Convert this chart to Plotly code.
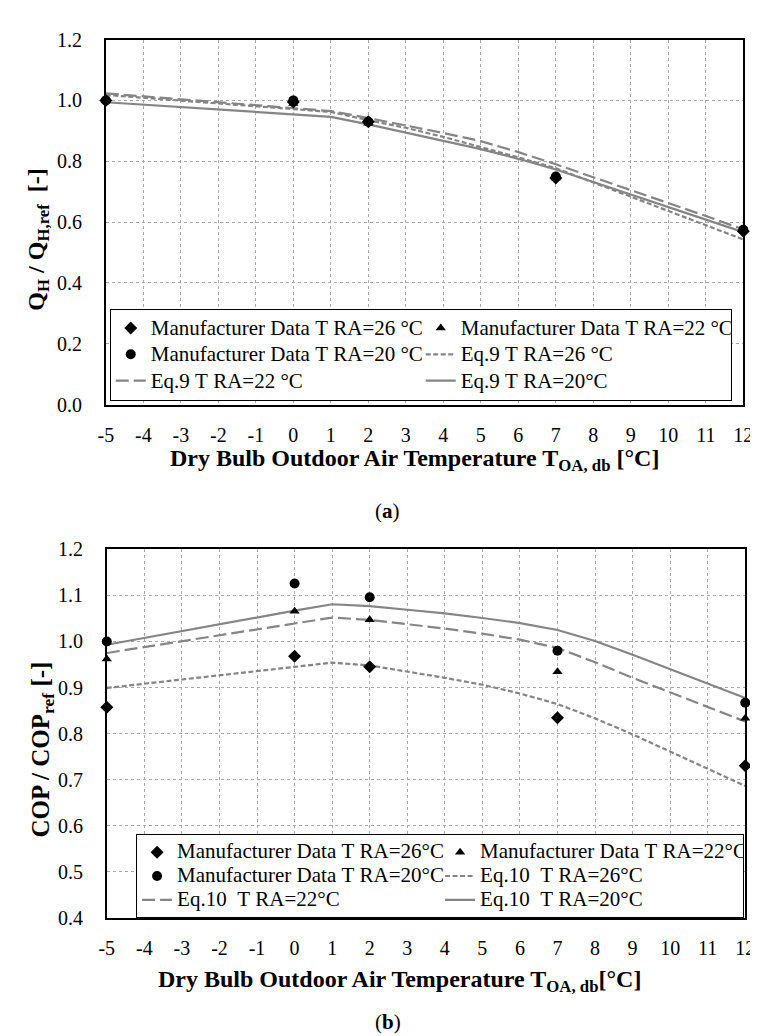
import plotly.graph_objects as go

# ---------------- data ----------------
x_pts = [-5, 0, 2, 7, 12]
x_line = list(range(-5, 13))

# (a) Q_H / Q_H,ref
qa_md26 = [1.000, 0.995, 0.930, 0.745, 0.570]
qa_md22 = [1.000, 0.990, 0.925, 0.745, 0.575]
qa_md20 = [1.000, 1.000, 0.930, 0.750, 0.575]
qa_eq26 = [1.018, 1.009, 1.000, 0.990, 0.981, 0.972, 0.962, 0.935, 0.910, 0.880,
           0.847, 0.813, 0.777, 0.730, 0.684, 0.637, 0.590, 0.543]
qa_eq22 = [1.023, 1.013, 1.004, 0.994, 0.984, 0.975, 0.965, 0.942, 0.918, 0.893,
           0.866, 0.830, 0.790, 0.748, 0.706, 0.663, 0.620, 0.576]
qa_eq20 = [0.994, 0.986, 0.978, 0.970, 0.962, 0.954, 0.946, 0.921, 0.894, 0.867,
           0.840, 0.808, 0.773, 0.732, 0.690, 0.649, 0.608, 0.567]

# (b) COP / COP_ref
cb_md26 = [0.857, 0.968, 0.945, 0.834, 0.730]
cb_md22 = [0.962, 1.066, 1.047, 0.934, 0.833]
cb_md20 = [1.000, 1.126, 1.096, 0.980, 0.867]
cb_eq26 = [0.899, 0.908, 0.917, 0.927, 0.936, 0.945, 0.954, 0.948, 0.935, 0.921,
           0.906, 0.887, 0.864, 0.833, 0.798, 0.761, 0.724, 0.686]
cb_eq22 = [0.975, 0.988, 1.001, 1.014, 1.027, 1.040, 1.052, 1.047, 1.038, 1.028,
           1.017, 1.004, 0.986, 0.955, 0.921, 0.889, 0.857, 0.826]
cb_eq20 = [0.993, 1.008, 1.022, 1.037, 1.052, 1.067, 1.081, 1.077, 1.069, 1.061,
           1.051, 1.040, 1.025, 1.001, 0.971, 0.940, 0.909, 0.877]

names_a = ["Manufacturer Data T RA=26 °C", "Manufacturer Data T RA=22 °C",
           "Manufacturer Data T RA=20 °C", "Eq.9 T RA=26 °C",
           "Eq.9 T RA=22 °C", "Eq.9 T RA=20°C"]
names_b = ["Manufacturer Data T RA=26°C", "Manufacturer Data T RA=22°C",
           "Manufacturer Data T RA=20°C", "Eq.10  T RA=26°C",
           "Eq.10  T RA=22°C", "Eq.10  T RA=20°C"]

x_ticks = list(range(-5, 13))
x_ticktext = [str(v) for v in x_ticks]

# ---------------- style ----------------
W, H = 758, 1036
FONT = "Liberation Serif"
GREY = "#858585"
GRID = "#a8a8a8"
dash_short = "5px,2.5px"
dash_long = "13px,5px"

def px_x(p):
    return p / W

def px_y(p):
    return 1 - p / H

def big(t):
    return '<span style="font-size:21px">' + t.replace(" ", "\u00a0") + "</span>"

fig = go.Figure()

def add_panel(xa, ya, leg, md, eq, names):
    dashes = [dash_short, dash_long, "solid"]
    for i in range(3):
        fig.add_trace(go.Scatter(
            x=x_line, y=eq[i], mode="lines", name=big(names[3 + i]),
            line=dict(color=GREY, width=2.2, dash=dashes[i]),
            xaxis=xa, yaxis=ya, legend=leg, legendrank=4 + i,
            cliponaxis=False))
    symbols = ["diamond", "triangle-up", "circle"]
    sizes = [10, 9, 10]
    for i in range(3):
        fig.add_trace(go.Scatter(
            x=x_pts, y=md[i], mode="markers", name=big(names[i]),
            marker=dict(color="black", symbol=symbols[i], size=sizes[i]),
            xaxis=xa, yaxis=ya, legend=leg, legendrank=1 + i,
            cliponaxis=False))

add_panel("x", "y", "legend", [qa_md26, qa_md22, qa_md20],
          [qa_eq26, qa_eq22, qa_eq20], names_a)
add_panel("x2", "y2", "legend2", [cb_md26, cb_md22, cb_md20],
          [cb_eq26, cb_eq22, cb_eq20], names_b)

axis_common = dict(
    showline=True, linecolor="black", linewidth=1.5, mirror=True,
    showgrid=True, gridcolor=GRID, gridwidth=1, griddash="dot",
    zeroline=False, ticks="", tickfont=dict(family=FONT, size=20, color="black"),
)

fig.update_layout(
    width=W, height=H,
    margin=dict(l=0, r=0, t=0, b=0),
    paper_bgcolor="white", plot_bgcolor="white",
    font=dict(family=FONT, size=20, color="black"),
    xaxis=dict(domain=[px_x(92), px_x(745)], range=[-5, 12], tickvals=x_ticks,
               ticktext=x_ticktext, anchor="y", ticklabelstandoff=12, **axis_common),
    yaxis=dict(domain=[px_y(394), px_y(21)], range=[0, 1.2], dtick=0.2,
               tickformat=".1f", anchor="x", ticklabelstandoff=18, **axis_common),
    xaxis2=dict(domain=[px_x(93), px_x(747)], range=[-5, 12], tickvals=x_ticks,
                ticktext=x_ticktext, anchor="y2", ticklabelstandoff=12, **axis_common),
    yaxis2=dict(domain=[px_y(918), px_y(542)], range=[0.4, 1.2], dtick=0.1,
                tickformat=".1f", anchor="x2", ticklabelstandoff=18, **axis_common),
    legend=dict(x=px_x(96), y=px_y(296), xanchor="left", yanchor="top",
                orientation="h", entrywidth=265, bgcolor="white",
                bordercolor="black", borderwidth=1,
                font=dict(family=FONT, size=18, color="black"),
                tracegroupgap=0),
    legend2=dict(x=px_x(123), y=px_y(833), xanchor="left", yanchor="top",
                 orientation="h", entrywidth=258, bgcolor="white",
                 bordercolor="black", borderwidth=1,
                 font=dict(family=FONT, size=16, color="black"),
                 tracegroupgap=0),
    showlegend=True,
)

def ann(text, x, y, size, angle=0):
    fig.add_annotation(text=text, x=px_x(x), y=px_y(y), xref="paper", yref="paper",
                       showarrow=False, textangle=angle, xanchor="center",
                       yanchor="middle",
                       font=dict(family=FONT, size=size, color="black"))

ann("<b>Dry Bulb Outdoor Air Temperature T<sub>OA, db</sub> [°C]</b>", 408, 451, 24)
ann("<b>Dry Bulb Outdoor Air Temperature T<sub>OA, db</sub>[°C]</b>", 393, 983, 24)
ann("<b>Q<sub>H</sub> / Q<sub>H,ref</sub>  [-]</b>", 23, 225, 24, -90)
ann("<b>COP / COP<sub>ref</sub> [-]</b>", 27, 746, 25, -90)
ann("(<b>a</b>)", 381, 503, 21)
ann("(<b>b</b>)", 381, 1025, 21)

fig.write_html("out.html")
